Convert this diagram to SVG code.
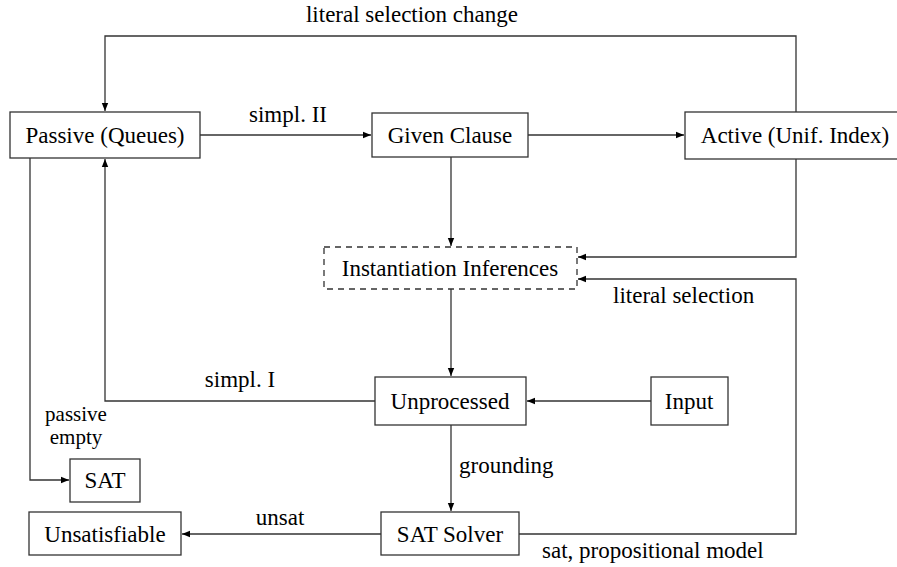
<svg xmlns="http://www.w3.org/2000/svg" width="897" height="567" viewBox="0 0 897 567">
<style>
text{font-family:'Liberation Serif','Times New Roman',serif;font-size:23px;fill:#000}
.m{text-anchor:middle}
.s{font-size:21px}
.box{fill:#fff;stroke:#333;stroke-width:1.3}
.dash{fill:none;stroke:#333;stroke-width:1.3;stroke-dasharray:6 5}
.c{fill:none;stroke:#333;stroke-width:1.3}
</style>
<defs>
<marker id="ah" viewBox="0 0 10 10" refX="10" refY="5" markerWidth="8" markerHeight="8" markerUnits="userSpaceOnUse" orient="auto">
<path d="M0,1 L10,5 L0,9 Z" fill="#000"/>
</marker>
</defs>
<g id="connectors">
<path class="c" d="M200,135 H371" marker-end="url(#ah)"/>
<path class="c" d="M528,135 H684" marker-end="url(#ah)"/>
<path class="c" d="M796,112 V36 H105 V111" marker-end="url(#ah)"/>
<path class="c" d="M451,157 V246" marker-end="url(#ah)"/>
<path class="c" d="M796,159 V257 H578" marker-end="url(#ah)"/>
<path class="c" d="M519,534 H796 V279 H578" marker-end="url(#ah)"/>
<path class="c" d="M451,289 V376" marker-end="url(#ah)"/>
<path class="c" d="M651,401 H527" marker-end="url(#ah)"/>
<path class="c" d="M375,401 H105 V159" marker-end="url(#ah)"/>
<path class="c" d="M30,158 V480 H69" marker-end="url(#ah)"/>
<path class="c" d="M451,425 V511" marker-end="url(#ah)"/>
<path class="c" d="M381,534 H182" marker-end="url(#ah)"/>
<text class="m" x="412" y="22">literal selection change</text>
<text class="m" x="288" y="122">simpl. II</text>
<text x="613" y="303">literal selection</text>
<text class="m" x="240" y="387">simpl. I</text>
<text class="m s" x="76" y="421">passive</text>
<text class="m s" x="76" y="444">empty</text>
<text x="459" y="473">grounding</text>
<text class="m" x="280" y="525">unsat</text>
<text x="542" y="558">sat, propositional model</text>
</g>
<g id="passive"><rect class="box" x="10" y="112" width="190" height="46"/><text class="m" x="105" y="143">Passive (Queues)</text></g>
<g id="given"><rect class="box" x="372" y="113" width="156" height="44"/><text class="m" x="450" y="143">Given Clause</text></g>
<g id="active"><rect class="box" x="685" y="112" width="223" height="47"/><text class="m" x="795" y="143">Active (Unif. Index)</text></g>
<g id="inst"><rect class="dash" x="324" y="247" width="253" height="42"/><text class="m" x="450" y="276">Instantiation Inferences</text></g>
<g id="unprocessed"><rect class="box" x="375" y="377" width="151" height="48"/><text class="m" x="450" y="409">Unprocessed</text></g>
<g id="input"><rect class="box" x="651" y="377" width="77" height="48"/><text class="m" x="689" y="409">Input</text></g>
<g id="sat"><rect class="box" x="70" y="459" width="70" height="43"/><text class="m" x="105" y="488">SAT</text></g>
<g id="unsat"><rect class="box" x="29" y="512" width="152" height="43"/><text class="m" x="105" y="542">Unsatisfiable</text></g>
<g id="solver"><rect class="box" x="381" y="512" width="138" height="43"/><text class="m" x="450" y="542">SAT Solver</text></g>
</svg>
